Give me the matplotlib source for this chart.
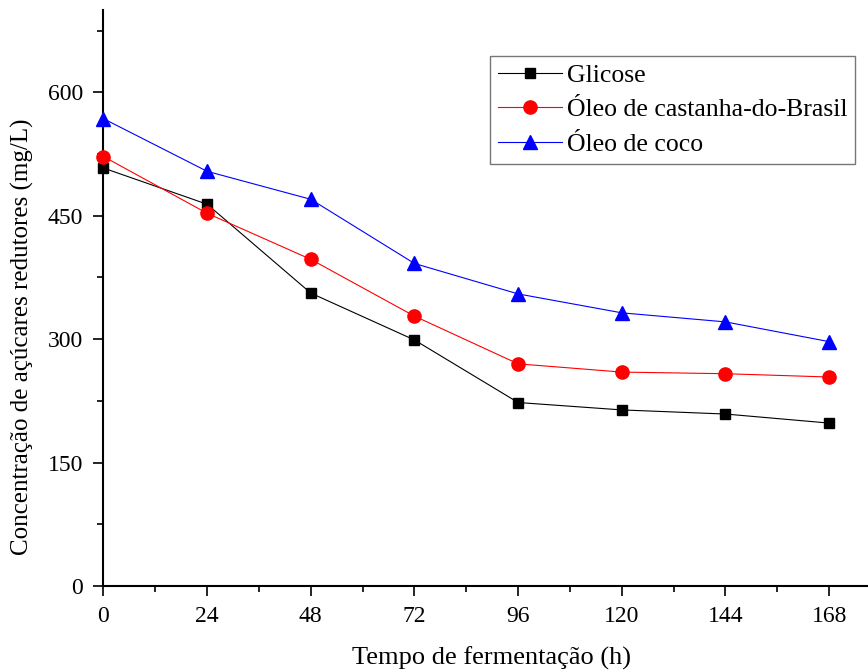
import matplotlib.pyplot as plt
from matplotlib.ticker import MultipleLocator

# Reducing sugar concentration during fermentation (mg/L)
tempo = [0, 24, 48, 72, 96, 120, 144, 168]
glicose = [508, 464, 356, 299, 223, 214, 209, 198]
oleoCastanha = [522, 453, 397, 328, 270, 260, 258, 254]
oleoCoco = [568, 504, 470, 392, 355, 332, 321, 297]

plt.rcParams["font.family"] = ["Liberation Serif", "DejaVu Serif"]

fig = plt.figure(figsize=(8.68, 6.72), dpi=100)
ax = fig.add_axes([0.1192, 0.128, 0.8808, 0.857])

ax.plot(tempo, glicose, color="black", linewidth=0.8, marker="s",
        markersize=7.5, label="Glicose", clip_on=False, zorder=3)
ax.plot(tempo, oleoCastanha, color="red", linewidth=0.8, marker="o",
        markersize=9.5, label="Óleo de castanha-do-Brasil", clip_on=False, zorder=3)
ax.plot(tempo, oleoCoco, color="blue", linewidth=0.8, marker="^",
        markersize=10.5, label="Óleo de coco", clip_on=False, zorder=3)

ax.set_xlim(0, 177)
ax.set_ylim(0, 700)
ax.xaxis.set_major_locator(MultipleLocator(24))
ax.xaxis.set_minor_locator(MultipleLocator(12))
ax.yaxis.set_major_locator(MultipleLocator(150))
ax.yaxis.set_minor_locator(MultipleLocator(75))

for side in ["top", "right"]:
    ax.spines[side].set_visible(False)
for side in ["left", "bottom"]:
    ax.spines[side].set_linewidth(1.5)

ax.tick_params(which="major", length=7.5, width=1.2, labelsize=17, pad=7)
ax.tick_params(which="minor", length=4.5, width=1.2)

ax.set_xlabel("Tempo de fermentação (h)", fontsize=19, va="center")
ax.set_ylabel("Concentração de açúcares redutores (mg/L)", fontsize=18, va="center")
ax.xaxis.set_label_coords(0.507, -0.125)
ax.yaxis.set_label_coords(-0.1066, 0.432)

leg = ax.legend(loc="upper left", bbox_to_anchor=(0.5056, 0.92), fontsize=18.5,
                frameon=True, fancybox=False, handlelength=2.5,
                handletextpad=0.2, borderpad=0.3, labelspacing=0.45,
                borderaxespad=0)
leg.get_frame().set_edgecolor("#555555")
leg.get_frame().set_linewidth(1.0)

fig.savefig("out.png", dpi=100)
